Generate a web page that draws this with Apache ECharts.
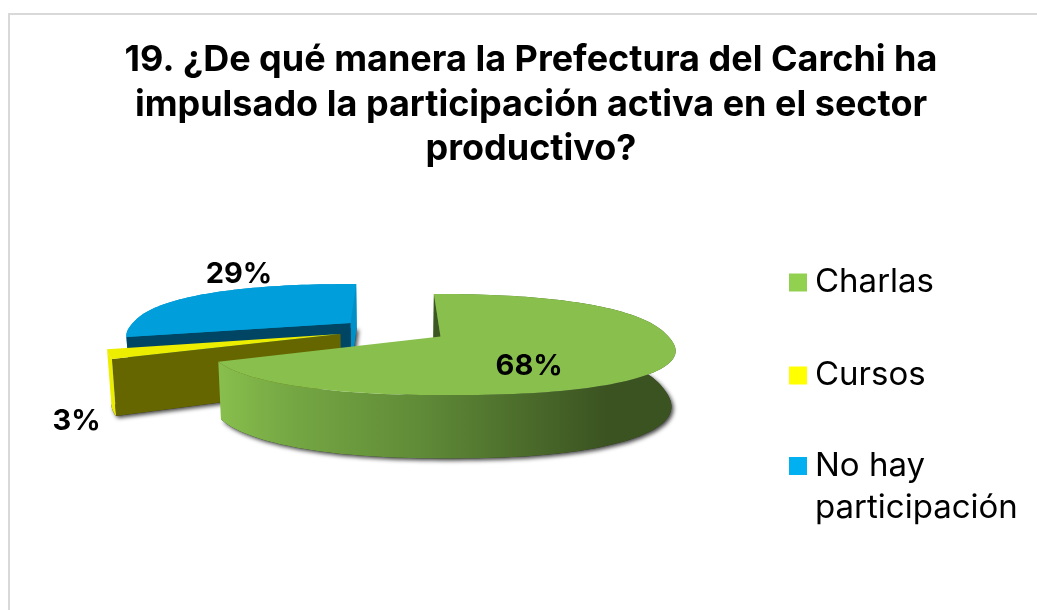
<!DOCTYPE html>
<html>
<head>
<meta charset="utf-8">
<style>
  html, body { margin: 0; padding: 0; background: #fff; }
  #chart { width: 1037px; height: 610px; }
</style>
</head>
<body>
<div id="chart"></div>
<script src="https://cdn.jsdelivr.net/npm/echarts@6/dist/echarts.min.js"></script>
<script>
const titleLines = [
  '19. ¿De qué manera la Prefectura del Carchi ha',
  'impulsado la participación activa en el sector',
  'productivo?'
];
const categories = ['Charlas', 'Cursos', 'No hay participación'];
const values = [68, 3, 29];

// colores: leyenda, cara superior, pared de inicio, pared final
const legendColors = ['#92D050', '#FFFF00', '#00B0F0'];
const topColors = ['#88BF4D', '#EDED00', '#009FDC'];
const wallStartColors = ['#3D5722', '#666600', '#004664'];
const wallEndColors = [null, null, '#0090C8'];

const FONT = 'Inter';

// perspectiva de la torta, ajustada a ojo
const CX = 393, CY = 330, RX = 223, RY = 47.2, K = 0.158, DEPTH = 52, EXPLODE = 0.247;
const ROUND = 0.87;

function project(px, pv, down) {
  const s = 1 / (1 + K * pv);
  const x = CX + RX * px * s;
  const y = CY - RY * pv * s;
  if (!down) return [x, y];
  return [CX + (x - CX) * 0.985, y + DEPTH * s];
}

// el borde de la referencia es un poco mas lleno que una elipse
function fuller(t) {
  return Math.sign(t) * Math.pow(Math.abs(t), ROUND);
}

const total = values.reduce((a, b) => a + b, 0);

function sliceAngles(index) {
  let before = 0;
  for (let i = 0; i < index; i++) before += values[i];
  return [before / total * 2 * Math.PI, (before + values[index]) / total * 2 * Math.PI];
}

// posicion de la etiqueta respecto al centro de cada porcion
const labelRadius = [0.5, 1, 1];
const labelShift = [[-14, 16], [-36, 70], [42, -24]];

function renderSlice(index) {
  const [a0, a1] = sliceAngles(index);
  const mid = (a0 + a1) / 2;
  const ox = Math.sin(mid) * EXPLODE;
  const ov = Math.cos(mid) * EXPLODE;
  const pt = (a, down) => project(ox + fuller(Math.sin(a)), ov + fuller(Math.cos(a)), down);
  const apex = down => project(ox, ov, down);

  const arcTop = [];
  const arcBottom = [];
  const steps = Math.max(4, Math.round((a1 - a0) / 0.03));
  for (let i = 0; i <= steps; i++) {
    const a = a0 + (a1 - a0) * i / steps;
    arcTop.push(pt(a, false));
    arcBottom.push(pt(a, true));
  }

  let rimFill = topColors[index];
  if (index === 0) {
    rimFill = new echarts.graphic.LinearGradient(218, 0, 675, 0, [
      { offset: 0, color: '#88BF4D' },
      { offset: 0.15, color: '#76A844' },
      { offset: 0.45, color: '#5F8A37' },
      { offset: 0.85, color: '#3B5321' },
      { offset: 1, color: '#3B5321' }
    ], true);
  } else if (index === 2) {
    rimFill = '#0090C8';
  }

  const children = [];
  children.push({
    type: 'polygon',
    shape: { points: [apex(true)].concat(arcBottom) },
    style: {
      fill: '#333',
      shadowBlur: 4,
      shadowColor: 'rgba(0,0,0,0.75)',
      shadowOffsetX: 2,
      shadowOffsetY: 2
    }
  });
  children.push({
    type: 'polygon',
    shape: { points: arcTop.concat(arcBottom.slice().reverse()) },
    style: { fill: rimFill }
  });
  if (wallEndColors[index]) {
    children.push({
      type: 'polygon',
      shape: { points: [apex(false), pt(a1, false), pt(a1, true), apex(true)] },
      style: { fill: wallEndColors[index] }
    });
  }
  children.push({
    type: 'polygon',
    shape: { points: [apex(false), pt(a0, false), pt(a0, true), apex(true)] },
    style: { fill: wallStartColors[index] }
  });
  children.push({
    type: 'polygon',
    shape: { points: [apex(false)].concat(arcTop) },
    style: { fill: topColors[index] }
  });

  const r = labelRadius[index];
  const lp = project(ox + Math.sin(mid) * r, ov + Math.cos(mid) * r, false);
  children.push({
    type: 'text',
    z2: 100,
    style: {
      x: lp[0] + labelShift[index][0],
      y: lp[1] + labelShift[index][1],
      text: values[index] + '%',
      fill: '#000',
      font: 'bold 29px ' + FONT,
      align: 'center',
      verticalAlign: 'middle'
    }
  });
  return { type: 'group', children: children };
}

const chart = echarts.init(document.getElementById('chart'));

chart.setOption({
  animation: false,
  backgroundColor: '#fff',
  title: {
    text: titleLines.join('\n'),
    left: 526,
    top: 33,
    textAlign: 'center',
    textStyle: {
      fontFamily: FONT,
      fontWeight: 'bold',
      fontSize: 36,
      lineHeight: 44.5,
      color: '#000'
    }
  },
  legend: [
    {
      data: categories.slice(0, 2),
      orient: 'vertical',
      left: 789,
      top: 266,
      padding: 0,
      icon: 'rect',
      itemWidth: 18,
      itemHeight: 18,
      itemGap: 60,
      selectedMode: false,
      textStyle: { fontFamily: FONT, fontSize: 33, color: '#000', padding: [0, 0, 0, 3] }
    },
    {
      data: categories.slice(2),
      orient: 'vertical',
      left: 789,
      top: 445,
      padding: 0,
      // el cuadro queda arriba, alineado con la primera linea del texto
      icon: 'path://M0 0H18V18H0Z M0 60L0 60Z',
      itemWidth: 18,
      itemHeight: 60,
      selectedMode: false,
      formatter: () => 'No hay\nparticipación',
      textStyle: { fontFamily: FONT, fontSize: 33, lineHeight: 42, color: '#000', padding: [0, 0, 0, 3] }
    }
  ],
  graphic: [{
    type: 'rect',
    silent: true,
    shape: { x: 9, y: 14, width: 1100, height: 700 },
    style: { fill: 'none', stroke: '#D9D9D9', lineWidth: 2 }
  }],
  series: categories.map((name, i) => ({
    type: 'custom',
    name: name,
    coordinateSystem: 'none',
    z: 3 - i,
    silent: true,
    itemStyle: { color: legendColors[i] },
    data: [values[i]],
    renderItem: () => renderSlice(i)
  }))
});
</script>
</body>
</html>
